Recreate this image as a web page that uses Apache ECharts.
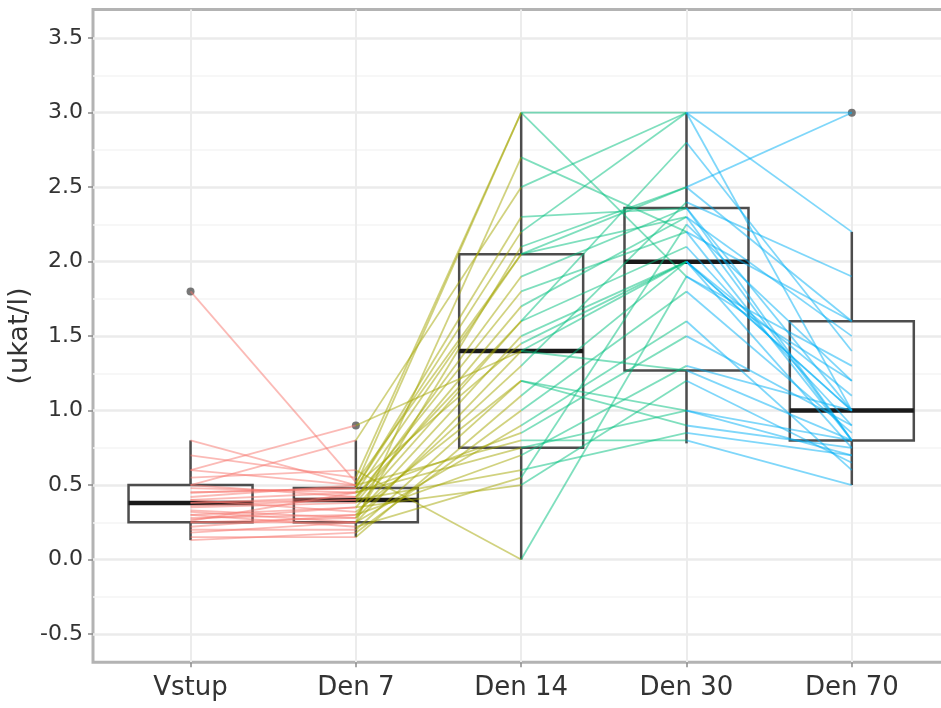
<!DOCTYPE html>
<html>
<head>
<meta charset="utf-8">
<script src="https://cdn.jsdelivr.net/npm/echarts@6/dist/echarts.min.js"></script>
<style>
html,body{margin:0;padding:0;background:#fff;overflow:hidden;}
#chart{width:941px;height:708px;}
</style>
</head>
<body>
<div id="chart"></div>
<script>
// ---- data ----
const categories = ['Vstup', 'Den 7', 'Den 14', 'Den 30', 'Den 70'];
const yTickValues = [-0.5, 0, 0.5, 1, 1.5, 2, 2.5, 3, 3.5];
const yTickLabels = ['-0.5', '0.0', '0.5', '1.0', '1.5', '2.0', '2.5', '3.0', '3.5'];
const yMinorValues = [-0.25, 0.25, 0.75, 1.25, 1.75, 2.25, 2.75, 3.25];
const yAxisTitle = '(ukat/l)';

// box statistics per time point
const boxLow  = [0.13, 0.15, 0.00, 0.78, 0.50];
const boxQ1   = [0.25, 0.25, 0.75, 1.27, 0.80];
const boxMed  = [0.38, 0.40, 1.40, 2.00, 1.00];
const boxQ3   = [0.50, 0.48, 2.05, 2.36, 1.60];
const boxHigh = [0.80, 0.80, 3.00, 3.00, 2.20];
const outlierCat = [0, 1, 4];
const outlierVal = [1.80, 0.90, 3.00];

// individual patient values (patient-aligned across time points)
const vstup = [1.80,0.60,0.80,0.70,0.55,0.50,0.45,0.40,0.38,0.38,0.35,0.30,0.28,0.25,0.25,0.20,0.15,0.13,0.32,0.42,0.48,0.22,0.36,0.30,0.27,0.45,0.18,0.50,0.40,0.33,0.26,0.60];
const den7  = [0.52,0.90,0.50,0.55,0.60,0.80,0.48,0.45,0.40,0.42,0.38,0.35,0.30,0.25,0.28,0.20,0.15,0.18,0.25,0.50,0.45,0.30,0.40,0.22,0.35,0.48,0.25,0.42,0.32,0.28,0.45,0.50];
const den14 = [2.05,1.40,3.00,3.00,0.00,2.50,2.20,2.05,1.90,1.80,1.70,1.60,1.50,1.40,1.30,1.20,1.10,1.00,0.90,0.80,0.75,0.70,0.60,0.55,0.50,2.30,2.70,1.60,1.20,2.10,0.85,1.45];
const den30 = [2.30,2.00,3.00,1.90,1.90,3.00,3.00,2.50,2.36,2.20,2.30,2.10,2.00,1.27,2.40,1.00,2.00,1.80,1.60,0.80,1.00,1.30,0.85,2.25,1.20,2.36,2.20,2.80,0.90,2.50,1.50,2.00];
const den70 = [0.80,1.00,3.00,1.30,1.20,1.00,2.20,3.00,0.80,1.60,1.50,0.90,0.75,0.80,1.90,0.70,1.00,0.85,0.60,0.50,0.80,1.00,0.70,1.20,0.65,1.00,0.80,1.40,0.75,1.60,0.90,1.10];

const segmentColors = ['rgba(248,118,109,0.5)', 'rgba(163,165,0,0.5)', 'rgba(0,191,125,0.5)', 'rgba(0,176,246,0.5)'];

// ---- build ----
const timeSeries = [vstup, den7, den14, den30, den70];
const boxData = categories.map((c, i) => [i, boxLow[i], boxQ1[i], boxMed[i], boxQ3[i], boxHigh[i]]);
const outlierData = outlierCat.map((c, i) => [c, outlierVal[i]]);

const font = 'DejaVu Sans';

const segmentSeries = [0, 1, 2, 3].map(k => ({
  type: 'custom',
  z: 4,
  encode: { x: 0, y: [1, 2] },
  data: vstup.map((_, i) => [k, timeSeries[k][i], timeSeries[k + 1][i]]),
  renderItem: function (params, api) {
    const x = api.value(0);
    const a = api.coord([x, api.value(1)]);
    const b = api.coord([x + 1, api.value(2)]);
    return {
      type: 'line',
      shape: { x1: a[0], y1: a[1], x2: b[0], y2: b[1] },
      style: { stroke: segmentColors[k], lineWidth: 1.8 }
    };
  }
}));

const chart = echarts.init(document.getElementById('chart'));
chart.setOption({
  animation: false,
  backgroundColor: '#ffffff',
  grid: {
    left: 93, top: 9.5, right: -10, bottom: 45.7,
    outerBoundsMode: 'none',
    show: true, borderColor: '#b3b3b3', borderWidth: 3, backgroundColor: 'transparent',
    containLabel: false
  },
  xAxis: {
    type: 'value', min: -0.59, max: 4.6,
    axisLine: { show: false, onZero: false },
    axisTick: { show: true, customValues: [0, 1, 2, 3, 4], length: 5, lineStyle: { color: '#8a8a8a', width: 1.5 } },
    axisLabel: {
      customValues: [0, 1, 2, 3, 4],
      formatter: v => categories[Math.round(v)],
      fontFamily: font, fontSize: 26, color: '#333333', margin: 13
    },
    splitLine: { show: true, lineStyle: { color: '#ececec', width: 2 } }
  },
  yAxis: [{
    type: 'value', min: -0.69, max: 3.693,
    axisLine: { show: false, onZero: false },
    axisTick: { show: true, customValues: yTickValues, length: 5, lineStyle: { color: '#8a8a8a', width: 1.5 } },
    axisLabel: {
      customValues: yTickValues,
      formatter: v => { const i = yTickValues.findIndex(t => Math.abs(t - v) < 1e-6); return i >= 0 ? yTickLabels[i] : ''; },
      fontFamily: font, fontSize: 22, color: '#333333', margin: 10
    },
    splitLine: { show: true, lineStyle: { color: '#ebebeb', width: 2.5 } },
    name: yAxisTitle, nameLocation: 'middle', nameRotate: 90, nameGap: 60,
    nameMoveOverlap: false,
    nameTextStyle: { fontFamily: font, fontSize: 27, color: '#333333' }
  }, {
    type: 'value', min: -0.69, max: 3.693, position: 'left',
    axisLine: { show: false, onZero: false },
    axisTick: { show: false, customValues: yMinorValues },
    axisLabel: { show: false },
    splitLine: { show: true, lineStyle: { color: '#f4f4f4', width: 1.5 } }
  }],
  series: [{
    type: 'custom',
    z: 3,
    encode: { x: 0, y: [1, 2, 3, 4, 5] },
    data: boxData,
    renderItem: function (params, api) {
      const x = api.value(0);
      const lo = api.coord([x, api.value(1)]);
      const q1 = api.coord([x, api.value(2)]);
      const md = api.coord([x, api.value(3)]);
      const q3 = api.coord([x, api.value(4)]);
      const hi = api.coord([x, api.value(5)]);
      const hw = api.size([0.75, 0])[0] / 2;
      const cx = lo[0];
      const st = { stroke: '#4d4d4d', lineWidth: 2.5, fill: 'none' };
      return {
        type: 'group',
        children: [
          { type: 'line', shape: { x1: cx, y1: q3[1], x2: cx, y2: hi[1] }, style: st },
          { type: 'line', shape: { x1: cx, y1: q1[1], x2: cx, y2: lo[1] }, style: st },
          { type: 'rect', shape: { x: cx - hw, y: q3[1], width: 2 * hw, height: q1[1] - q3[1] }, style: st },
          { type: 'line', shape: { x1: cx - hw, y1: md[1], x2: cx + hw, y2: md[1] }, style: { stroke: '#1a1a1a', lineWidth: 4.5 } }
        ]
      };
    }
  }, {
    type: 'scatter',
    z: 3,
    data: outlierData,
    symbolSize: 8,
    itemStyle: { color: '#555555' }
  }].concat(segmentSeries)
});
</script>
</body>
</html>
